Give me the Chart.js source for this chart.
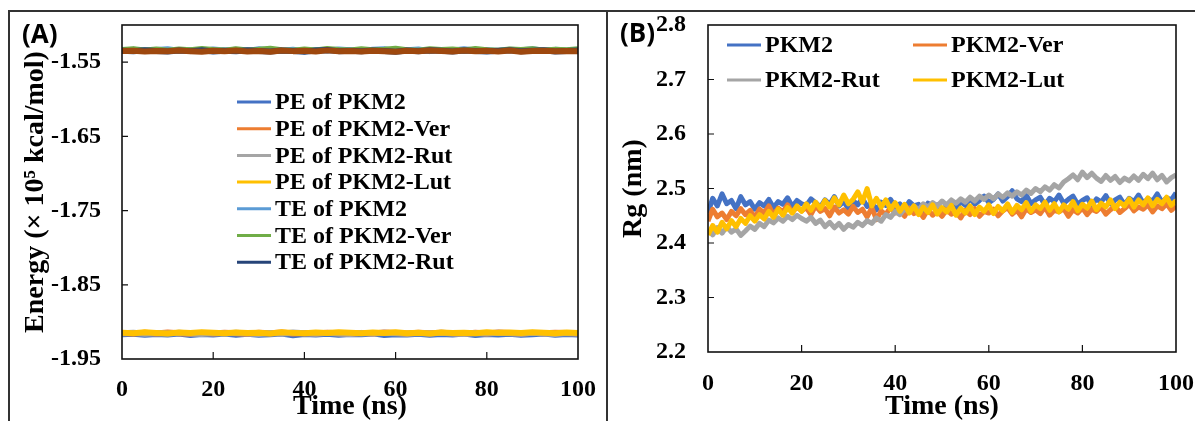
<!DOCTYPE html>
<html><head><meta charset="utf-8">
<script src="https://cdn.jsdelivr.net/npm/chart.js@4.4.1/dist/chart.umd.min.js"></script>
<style>
html,body{margin:0;padding:0;background:#fff;width:1195px;height:421px;overflow:hidden;position:relative}
#frameTop{position:absolute;left:8px;top:10px;width:1187px;height:0;border-top:2px solid #333}
#frameLeft{position:absolute;left:8px;top:10px;width:0;height:411px;border-left:2px solid #333}
#frameMid{position:absolute;left:606px;top:10px;width:0;height:411px;border-left:2px solid #333}
#cA{position:absolute;left:10px;top:12px}
#cB{position:absolute;left:608px;top:12px}
.plabel{position:absolute;font-family:'Open Sans',Lato,sans-serif;font-weight:bold;font-size:26px;line-height:1;color:#000}
</style></head>
<body>
<div id="frameTop"></div><div id="frameLeft"></div><div id="frameMid"></div>
<canvas id="cA" width="596" height="409"></canvas>
<canvas id="cB" width="587" height="409"></canvas>
<div class="plabel" style="left:22px;top:20px">(A)</div>
<div class="plabel" style="left:620px;top:19px">(B)</div>
<script>
// ---------- Panel A data ----------
const TIME_E = [0,2.5,5,7.5,10,12.5,15,17.5,20,22.5,25,27.5,30,32.5,35,37.5,40,42.5,45,47.5,50,52.5,55,57.5,60,62.5,65,67.5,70,72.5,75,77.5,80,82.5,85,87.5,90,92.5,95,97.5,100];
const PE_PKM2 = [-1.9168,-1.9159,-1.9174,-1.9162,-1.9171,-1.9156,-1.9177,-1.9163,-1.9169,-1.9158,
 -1.9175,-1.9161,-1.9172,-1.9166,-1.9157,-1.9179,-1.9164,-1.9170,-1.9160,-1.9173,
 -1.9162,-1.9168,-1.9155,-1.9176,-1.9165,-1.9171,-1.9159,-1.9174,-1.9163,-1.9169,
 -1.9157,-1.9178,-1.9164,-1.9170,-1.9161,-1.9175,-1.9166,-1.9158,-1.9172,-1.9163,-1.9169];
const PE_VER = [-1.9150,-1.9158,-1.9146,-1.9155,-1.9143,-1.9153,-1.9160,-1.9148,-1.9156,-1.9145,
 -1.9152,-1.9159,-1.9147,-1.9154,-1.9142,-1.9157,-1.9149,-1.9155,-1.9146,-1.9153,
 -1.9160,-1.9148,-1.9156,-1.9144,-1.9151,-1.9158,-1.9147,-1.9154,-1.9145,-1.9152,
 -1.9159,-1.9146,-1.9155,-1.9143,-1.9150,-1.9157,-1.9148,-1.9154,-1.9145,-1.9151,-1.9156];
const PE_RUT = [-1.9154,-1.9147,-1.9161,-1.9150,-1.9158,-1.9145,-1.9156,-1.9163,-1.9149,-1.9157,
 -1.9146,-1.9155,-1.9162,-1.9151,-1.9159,-1.9144,-1.9153,-1.9160,-1.9148,-1.9156,
 -1.9163,-1.9150,-1.9157,-1.9146,-1.9154,-1.9161,-1.9149,-1.9158,-1.9145,-1.9155,
 -1.9162,-1.9151,-1.9157,-1.9147,-1.9154,-1.9160,-1.9148,-1.9156,-1.9163,-1.9150,-1.9155];
const PE_LUT = [-1.9146,-1.9152,-1.9141,-1.9149,-1.9155,-1.9143,-1.9150,-1.9138,-1.9147,-1.9153,
 -1.9142,-1.9150,-1.9145,-1.9156,-1.9140,-1.9148,-1.9153,-1.9144,-1.9151,-1.9139,
 -1.9147,-1.9154,-1.9143,-1.9149,-1.9141,-1.9152,-1.9146,-1.9155,-1.9142,-1.9150,
 -1.9145,-1.9153,-1.9140,-1.9148,-1.9144,-1.9151,-1.9139,-1.9147,-1.9154,-1.9143,-1.9149];
const TE_PKM2 = [-1.5342,-1.5333,-1.5348,-1.5336,-1.5327,-1.5345,-1.5338,-1.5351,-1.5330,-1.5343,
 -1.5335,-1.5349,-1.5328,-1.5340,-1.5346,-1.5332,-1.5353,-1.5337,-1.5344,-1.5329,
 -1.5341,-1.5350,-1.5334,-1.5326,-1.5347,-1.5339,-1.5331,-1.5352,-1.5336,-1.5343,
 -1.5328,-1.5345,-1.5338,-1.5350,-1.5333,-1.5341,-1.5327,-1.5348,-1.5335,-1.5344,-1.5339];
const TE_VER = [-1.5336,-1.5325,-1.5344,-1.5331,-1.5347,-1.5329,-1.5340,-1.5322,-1.5338,-1.5345,
 -1.5327,-1.5342,-1.5333,-1.5320,-1.5339,-1.5346,-1.5330,-1.5343,-1.5324,-1.5337,
 -1.5345,-1.5328,-1.5341,-1.5334,-1.5321,-1.5340,-1.5347,-1.5326,-1.5338,-1.5331,
 -1.5344,-1.5323,-1.5339,-1.5348,-1.5330,-1.5336,-1.5325,-1.5342,-1.5333,-1.5340,-1.5328];
const TE_RUT = [-1.5347,-1.5354,-1.5341,-1.5350,-1.5358,-1.5344,-1.5352,-1.5339,-1.5356,-1.5346,
 -1.5353,-1.5340,-1.5349,-1.5357,-1.5343,-1.5351,-1.5360,-1.5345,-1.5338,-1.5352,
 -1.5348,-1.5355,-1.5342,-1.5350,-1.5359,-1.5344,-1.5353,-1.5340,-1.5347,-1.5356,
 -1.5343,-1.5351,-1.5358,-1.5346,-1.5339,-1.5354,-1.5348,-1.5341,-1.5357,-1.5349,-1.5345];
const TE_LUT = [-1.5352,-1.5346,-1.5358,-1.5349,-1.5355,-1.5343,-1.5353,-1.5360,-1.5347,-1.5354,
 -1.5344,-1.5356,-1.5350,-1.5359,-1.5345,-1.5352,-1.5348,-1.5357,-1.5342,-1.5354,
 -1.5349,-1.5358,-1.5346,-1.5353,-1.5361,-1.5347,-1.5355,-1.5343,-1.5351,-1.5357,
 -1.5345,-1.5353,-1.5348,-1.5356,-1.5344,-1.5359,-1.5350,-1.5346,-1.5354,-1.5349,-1.5352];
const ENERGY_TICKS = [-1.95,-1.85,-1.75,-1.65,-1.55];

// ---------- Panel B data ----------
const TIME_RG = [0,1,2,3,4,5,6,7,8,9,10,11,12,13,14,15,16,17,18,19,20,21,22,23,24,25,26,27,28,29,30,
 31,32,33,34,35,36,37,38,39,40,41,42,43,44,45,46,47,48,49,50,51,52,53,54,55,56,57,58,59,60,
 61,62,63,64,65,66,67,68,69,70,71,72,73,74,75,76,77,78,79,80,81,82,83,84,85,86,87,88,89,90,
 91,92,93,94,95,96,97,98,99,100];
const RG_PKM2 = [2.455,2.482,2.468,2.490,2.472,2.478,2.463,2.485,2.470,2.476,2.462,
 2.474,2.468,2.480,2.465,2.476,2.471,2.483,2.467,2.478,2.472,
 2.469,2.481,2.474,2.466,2.479,2.471,2.485,2.468,2.476,2.463,
 2.478,2.470,2.482,2.467,2.474,2.461,2.475,2.469,2.480,2.466,
 2.472,2.462,2.476,2.468,2.471,2.458,2.473,2.466,2.470,2.461,
 2.468,2.474,2.463,2.476,2.469,2.482,2.471,2.478,2.486,2.474,
 2.480,2.490,2.477,2.485,2.496,2.481,2.476,2.488,2.472,2.479,
 2.484,2.470,2.482,2.476,2.488,2.473,2.480,2.486,2.471,2.478,
 2.483,2.469,2.481,2.475,2.487,2.472,2.479,2.484,2.470,2.482,
 2.476,2.488,2.473,2.481,2.477,2.490,2.475,2.483,2.479,2.492];
const RG_VER = [2.440,2.462,2.448,2.455,2.443,2.458,2.450,2.463,2.452,2.460,2.447,
 2.462,2.455,2.468,2.451,2.464,2.457,2.470,2.456,2.466,2.459,
 2.465,2.452,2.468,2.458,2.463,2.450,2.466,2.455,2.461,2.453,
 2.467,2.456,2.462,2.448,2.465,2.443,2.459,2.452,2.466,2.455,
 2.460,2.449,2.464,2.454,2.459,2.447,2.462,2.451,2.458,2.449,
 2.461,2.453,2.457,2.446,2.460,2.452,2.463,2.449,2.458,2.455,
 2.462,2.450,2.459,2.465,2.453,2.460,2.448,2.463,2.456,2.461,
 2.454,2.466,2.451,2.460,2.457,2.463,2.449,2.461,2.455,2.464,
 2.452,2.462,2.458,2.466,2.453,2.461,2.468,2.456,2.463,2.471,
 2.459,2.466,2.462,2.470,2.457,2.468,2.463,2.472,2.460,2.468];
const RG_RUT = [2.425,2.415,2.428,2.418,2.430,2.420,2.426,2.414,2.422,2.431,2.425,
 2.436,2.430,2.442,2.437,2.446,2.440,2.449,2.443,2.451,2.445,
 2.440,2.447,2.436,2.442,2.430,2.438,2.428,2.436,2.425,2.434,
 2.429,2.438,2.432,2.441,2.436,2.446,2.440,2.452,2.447,2.458,
 2.452,2.463,2.457,2.468,2.461,2.472,2.466,2.474,2.468,2.477,
 2.470,2.479,2.473,2.481,2.475,2.484,2.477,2.486,2.480,2.488,
 2.481,2.490,2.484,2.492,2.486,2.494,2.488,2.497,2.491,2.500,
 2.494,2.503,2.497,2.507,2.501,2.512,2.518,2.525,2.516,2.530,
 2.520,2.528,2.519,2.513,2.524,2.515,2.522,2.511,2.519,2.514,
 2.523,2.515,2.526,2.518,2.528,2.516,2.524,2.512,2.520,2.525];
const RG_LUT = [2.415,2.432,2.420,2.438,2.426,2.441,2.430,2.445,2.436,2.450,2.440,
 2.452,2.444,2.458,2.447,2.462,2.451,2.465,2.455,2.468,2.458,
 2.472,2.460,2.475,2.463,2.478,2.466,2.483,2.470,2.488,2.472,
 2.480,2.494,2.475,2.500,2.468,2.482,2.466,2.479,2.462,2.474,
 2.458,2.471,2.455,2.468,2.452,2.466,2.456,2.470,2.453,2.465,
 2.457,2.469,2.451,2.464,2.455,2.468,2.452,2.466,2.458,2.470,
 2.454,2.467,2.459,2.472,2.456,2.469,2.461,2.474,2.458,2.470,
 2.463,2.475,2.460,2.472,2.457,2.470,2.462,2.476,2.459,2.471,
 2.464,2.477,2.461,2.473,2.466,2.479,2.463,2.475,2.468,2.481,
 2.466,2.479,2.470,2.483,2.468,2.480,2.472,2.484,2.469,2.478];
const RG_TICKS = [2.2,2.3,2.4,2.5,2.6,2.7,2.8];
const TIME_TICKS = [0,20,40,60,80,100];

// ---------- helpers ----------
const SERIF = "'Liberation Serif','Times New Roman',serif";
const pts = (xs, ys) => ys.map((v,i)=>({x:xs[i], y:v}));

const boxTicks = {
  id:'boxTicks',
  afterDatasetsDraw(chart){
    const {ctx, chartArea:a, scales:{x,y}} = chart;
    ctx.save();
    ctx.strokeStyle='#111'; ctx.lineWidth=1.6;
    ctx.strokeRect(a.left, a.top, a.right-a.left, a.bottom-a.top);
    ctx.lineWidth=1.2;
    ctx.beginPath();
    x.ticks.forEach(t=>{const px=x.getPixelForValue(t.value); if(px>a.left+2&&px<a.right-2){ctx.moveTo(px,a.bottom);ctx.lineTo(px,a.bottom-7);}});
    y.ticks.forEach(t=>{const py=y.getPixelForValue(t.value); if(py>a.top+2&&py<a.bottom-2){ctx.moveTo(a.left,py);ctx.lineTo(a.left+6,py);}});
    ctx.stroke(); ctx.restore();
  }
};
const insideLegend = {
  id:'insideLegend',
  afterDraw(chart, args, o){
    const ctx = chart.ctx;
    const items = chart.data.datasets.filter(d=>!d.noLegend);
    ctx.save();
    ctx.font = o.font; ctx.textBaseline='middle'; ctx.textAlign='left'; ctx.fillStyle='#000';
    items.forEach((d,i)=>{
      const col=i%o.cols, row=Math.floor(i/o.cols);
      const x=o.x+col*o.colW, y=o.y+row*o.rowH;
      ctx.strokeStyle=d.borderColor; ctx.lineWidth=3;
      ctx.beginPath(); ctx.moveTo(x,y); ctx.lineTo(x+o.lineLen,y); ctx.stroke();
      ctx.fillText(d.label, x+o.lineLen+o.gap, y+1);
    });
    ctx.restore();
  }
};
function axisX(height, pad){
  return {type:'linear', min:0, max:100,
    afterBuildTicks:s=>{s.ticks=TIME_TICKS.map(v=>({value:v}));},
    afterFit:s=>{s.height=height; s.paddingLeft=0; s.paddingRight=0;},
    grid:{display:false, drawTicks:false}, border:{display:false},
    ticks:{font:{family:SERIF,size:24,weight:'bold'}, color:'#000', padding:pad, maxRotation:0, autoSkip:false},
    title:{display:true, text:'Time (ns)', color:'#000', font:{family:SERIF,size:28,weight:'bold',lineHeight:1}, padding:{top:0,bottom:0}}};
}
function axisY(min,max,tickArr,width,pad,title,dec){
  return {min:min, max:max,
    afterBuildTicks:s=>{s.ticks=tickArr.map(v=>({value:v}));},
    afterFit:s=>{s.width=width; s.paddingTop=0; s.paddingBottom=0;},
    grid:{display:false, drawTicks:false}, border:{display:false},
    ticks:{font:{family:SERIF,size:24,weight:'bold'}, color:'#000', padding:pad, autoSkip:false, callback:v=>Number(v).toFixed(dec)},
    title:{display:true, text:title, color:'#000', font:{family:SERIF,size:28,weight:'bold'}, padding:{top:9,bottom:0}}};
}
const common = {responsive:false, animation:false, devicePixelRatio:1,
  elements:{point:{radius:0}, line:{tension:0, borderJoinStyle:'round'}}};

// ---------- Chart A ----------
const energySets = [
  {label:'PE of PKM2', data:PE_PKM2, color:'#4472C4'},
  {label:'PE of PKM2-Ver', data:PE_VER, color:'#ED7D31'},
  {label:'PE of PKM2-Rut', data:PE_RUT, color:'#A5A5A5'},
  {label:'PE of PKM2-Lut', data:PE_LUT, color:'#FFC000'},
  {label:'TE of PKM2', data:TE_PKM2, color:'#5B9BD5'},
  {label:'TE of PKM2-Ver', data:TE_VER, color:'#70AD47'},
  {label:'TE of PKM2-Rut', data:TE_RUT, color:'#264478'},
  {label:'TE of PKM2-Lut', data:TE_LUT, color:'#9E480E', noLegend:true}
];
new Chart(document.getElementById('cA'), {
  type:'line',
  data:{datasets: energySets.map((s,i)=>({label:s.label, data:pts(TIME_E,s.data), borderColor:s.color, backgroundColor:s.color, borderWidth:6, noLegend:!!s.noLegend, order:energySets.length-i}))},
  options:Object.assign({}, common, {
    layout:{padding:{left:0,top:13,right:28,bottom:0}},
    plugins:{legend:{display:false}, tooltip:{enabled:false},
      insideLegend:{x:227, y:90, rowH:26.7, cols:1, colW:0, lineLen:34, gap:4, font:"bold 24px "+SERIF}},
    scales:{x:axisX(62,16), y:axisY(-1.95,-1.50,ENERGY_TICKS,112,21,'Energy (× 10⁵ kcal/mol)',2)}
  }),
  plugins:[boxTicks, insideLegend]
});

// ---------- Chart B ----------
const rgSets = [
  {label:'PKM2', data:RG_PKM2, color:'#4472C4'},
  {label:'PKM2-Ver', data:RG_VER, color:'#ED7D31'},
  {label:'PKM2-Rut', data:RG_RUT, color:'#A5A5A5'},
  {label:'PKM2-Lut', data:RG_LUT, color:'#FFC000'}
];
new Chart(document.getElementById('cB'), {
  type:'line',
  data:{datasets: rgSets.map((s,i)=>({label:s.label, data:pts(TIME_RG,s.data), borderColor:s.color, backgroundColor:s.color, borderWidth:5, order:rgSets.length-i}))},
  options:Object.assign({}, common, {
    layout:{padding:{left:0,top:13,right:19,bottom:0}},
    plugins:{legend:{display:false}, tooltip:{enabled:false},
      insideLegend:{x:119, y:33, rowH:35, cols:2, colW:186, lineLen:34, gap:4, font:"bold 24px "+SERIF}},
    scales:{x:axisX(69,17), y:axisY(2.2,2.8,RG_TICKS,100,22,'Rg (nm)',1)}
  }),
  plugins:[boxTicks, insideLegend]
});
</script>
</body></html>
